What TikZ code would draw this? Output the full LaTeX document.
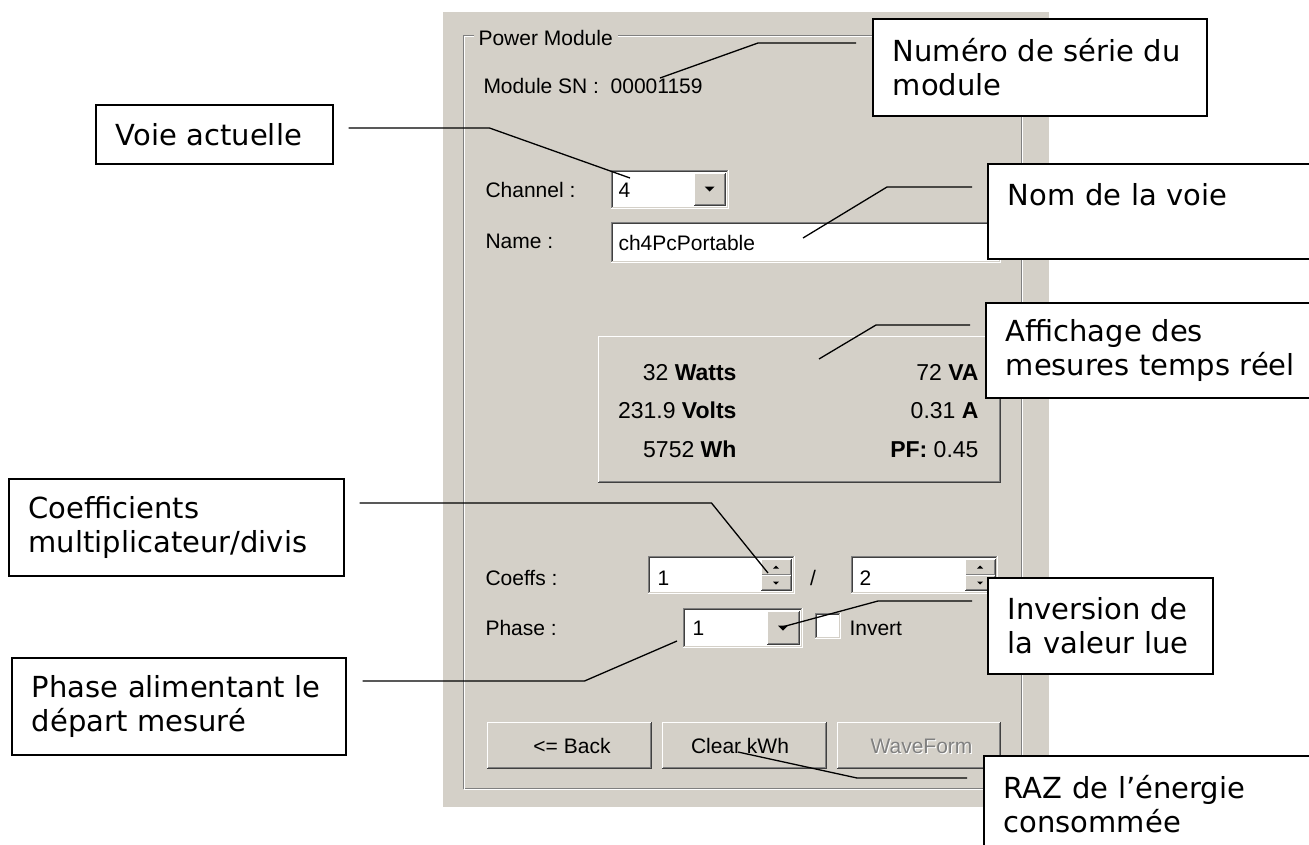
\documentclass[tikz,border=0pt]{standalone}
\usepackage{fontspec}
\setmainfont{DejaVu Sans}
\newfontfamily\guifont{Liberation Sans}
\usetikzlibrary{calc}
\definecolor{panelgray}{HTML}{D4D0C8}
\definecolor{shadowgray}{HTML}{808080}
\definecolor{darkshadow}{HTML}{404040}
\newcommand\sunkenfield[4]{%
  \fill[white] (#1,#2) rectangle (#3,#4);
  \draw[shadowgray] (#1,#4) -- (#1,#2) -- (#3,#2);
  \draw[darkshadow] (#1+1,#4-1) -- (#1+1,#2+1) -- (#3-1,#2+1);
  \draw[white] (#1,#4) -- (#3,#4) -- (#3,#2);
  \draw[panelgray] (#1+1,#4-1) -- (#3-1,#4-1) -- (#3-1,#2+1);
}
\newcommand\guibutton[4]{%
  \fill[panelgray] (#1,#2) rectangle (#3,#4);
  \draw[white] (#1,#4) -- (#1,#2) -- (#3,#2);
  \draw[darkshadow] (#1,#4) -- (#3,#4) -- (#3,#2);
  \draw[shadowgray] (#1+1,#4-1) -- (#3-1,#4-1) -- (#3-1,#2+1);
}
\newcommand\droptri[2]{\fill (#1-5,#2-2.5) -- (#1+5,#2-2.5) -- (#1,#2+2.5) -- cycle;}
\newcommand\spinup[2]{\fill (#1-3,#2+1.5) -- (#1+3,#2+1.5) -- (#1,#2-1.5) -- cycle;}
\newcommand\spindown[2]{\fill (#1-3,#2-1.5) -- (#1+3,#2-1.5) -- (#1,#2+1.5) -- cycle;}
\tikzset{
  guitext/.style={font=\guifont\fontsize{21}{25}\selectfont, inner sep=0pt, anchor=base west},
  readout/.style={font=\guifont\fontsize{23}{27}\selectfont, inner sep=0pt, anchor=base east},
  callout/.style={draw, fill=white, line width=1.5pt, anchor=north west, align=left,
    inner xsep=20pt, font=\fontsize{29}{34}\selectfont},
  leader/.style={line width=1.3pt}
}

\begin{document}
\begin{tikzpicture}[x=1pt,y=-1pt,line width=1pt]
\path[use as bounding box] (0,0) rectangle (1309,844);
\clip (0,0) rectangle (1309,844);
\fill[panelgray] (443,12) rectangle (1049,807);
\draw[shadowgray] (474,35) -- (463,35) -- (463,788) -- (1021,788) -- (1021,35) -- (618,35);
\draw[white] (474,36) -- (464,36) -- (464,789) -- (1022,789) -- (1022,36) -- (618,36);
\node[guitext] (title) at (478,45) {Power Module};
\node[guitext] (snlabel) at (483,93) {Module SN :\ \ 00001159};
\node[guitext] (chlabel) at (485,197) {Channel :};
\node[guitext] (namelabel) at (485,248) {Name :};
\node[guitext] (coefflabel) at (485,585) {Coeffs :};
\node[guitext] (phaselabel) at (485,635) {Phase :};

\sunkenfield{611}{170}{728}{208}
\guibutton{694}{173}{725}{205}
\droptri{709.5}{189}
\node[guitext] (chvalue) at (618,197) {4};

\sunkenfield{611}{222}{1000}{262}
\node[guitext] (namevalue) at (618,250) {ch4PcPortable};

\guibutton{598}{336}{1000}{482}
\node[readout] (watts) at (737,380) {32 \textbf{Watts}};
\node[readout] (volts) at (737,418) {231.9 \textbf{Volts}};
\node[readout] (wh) at (737,457) {5752 \textbf{Wh}};
\node[readout] (va) at (979,380) {72 \textbf{VA}};
\node[readout] (amps) at (979,418) {0.31 \textbf{A}};
\node[readout] (pf) at (979,457) {\textbf{PF:} 0.45};

\sunkenfield{648}{556}{794}{593}
\guibutton{761}{559}{791}{575}
\guibutton{761}{575}{791}{590}
\spinup{776}{567}
\spindown{776}{583}
\node[guitext] (coeffa) at (657,585) {1};
\node[guitext, anchor=base] (slash) at (813,585) {/};
\sunkenfield{851}{556}{997}{593}
\guibutton{965}{559}{995}{575}
\guibutton{965}{575}{995}{590}
\spinup{980}{567}
\spindown{980}{583}
\node[guitext] (coeffb) at (859,585) {2};

\sunkenfield{683}{608}{802}{647}
\guibutton{767}{611}{799}{644}
\droptri{783}{628}
\node[guitext] (phasevalue) at (692,635) {1};
\sunkenfield{815}{613}{840}{638}
\node[guitext] (invert) at (849,635) {Invert};

\guibutton{487}{722}{651}{768}
\node[guitext, anchor=base] (back) at (572,753) {<= Back};
\guibutton{662}{722}{826}{768}
\node[guitext, anchor=base] (clear) at (740,753) {Clear kWh};
\guibutton{837}{722}{1000}{768}
\node[guitext, anchor=base, white] at (922.5,754) {WaveForm};
\node[guitext, anchor=base, shadowgray] (wave) at (921.5,753) {WaveForm};

\coordinate (sntip) at (660,78);
\coordinate (chtip) at (630,178);
\coordinate (nametip) at (803,238);
\coordinate (disptip) at (819,359);
\coordinate (spintip) at (768,573);
\coordinate (invtip) at (782,627);
\coordinate (phasetip) at (677,641);
\coordinate (kwhtip) at (738,752);

\node[callout, text width=197pt, minimum height=59pt] (voie) at (95,104) {Voie actuelle};
\node[callout, text width=294pt, minimum height=97pt] (serie) at (872,18) {Numéro de série du\\module};
\node[callout, text width=330pt, minimum height=95pt] (nom) at (987,163) {Nom de la voie\\\mbox{}};
\node[callout, text width=330pt, minimum height=95pt] (affichage) at (985,302) {Affichage des\\mesures temps réel};
\node[callout, text width=295pt, minimum height=97pt] (coeffs) at (8,478) {Coefficients\\multiplicateur/divis};
\node[callout, text width=185pt, minimum height=96pt] (inversion) at (987,577) {Inversion de\\la valeur lue};
\node[callout, text width=294pt, minimum height=97pt] (phase) at (11,657) {Phase alimentant le\\départ mesuré};
\node[callout, text width=330pt, minimum height=97pt] (raz) at (983,755) {RAZ de l’énergie\\consommée};

\draw[leader] ($(voie.north east)+(15,24)$) -- ++(141,0) -- (chtip);
\draw[leader] ($(serie.north west)+(-16,25)$) -- ++(-98,0) -- (sntip);
\draw[leader] ($(nom.north west)+(-15,24)$) -- ++(-85,0) -- (nametip);
\draw[leader] ($(affichage.north west)+(-15,23)$) -- ++(-94,0) -- (disptip);
\draw[leader] ($(coeffs.north east)+(15,25)$) -- ++(352,0) -- (spintip);
\draw[leader] ($(inversion.north west)+(-15,24)$) -- ++(-94,0) -- (invtip);
\draw[leader] ($(phase.north east)+(16,24)$) -- ++(222,0) -- (phasetip);
\draw[leader] ($(raz.north west)+(-16,23)$) -- ++(-110,0) -- (kwhtip);
\end{tikzpicture}
\end{document}
